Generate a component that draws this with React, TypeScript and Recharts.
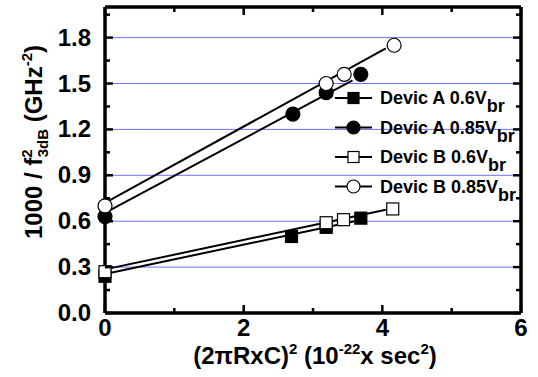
import React from 'react';
import {CartesianGrid, Legend, Line, LineChart, XAxis, YAxis} from 'recharts';

const xTicks = [0, 1, 2, 3, 4, 5, 6];
const xLabels = [0, 2, 4, 6];
const yTicks = [0, 0.15, 0.3, 0.45, 0.6, 0.75, 0.9, 1.05, 1.2, 1.35, 1.5, 1.65, 1.8, 1.95];
const yLabels = [0, 0.3, 0.6, 0.9, 1.2, 1.5, 1.8];
const gridValues = [0.3, 0.6, 0.9, 1.2, 1.5, 1.8];

// measured points
const devA06 = [{x: 0, y: 0.24}, {x: 2.69, y: 0.50}, {x: 3.19, y: 0.56}, {x: 3.69, y: 0.62}];
const devA085 = [{x: 0, y: 0.63}, {x: 2.71, y: 1.30}, {x: 3.19, y: 1.44}, {x: 3.69, y: 1.56}];
const devB06 = [{x: 0, y: 0.27}, {x: 3.19, y: 0.59}, {x: 3.44, y: 0.61}, {x: 4.15, y: 0.68}];
const devB085 = [{x: 0, y: 0.70}, {x: 3.19, y: 1.50}, {x: 3.45, y: 1.56}, {x: 4.17, y: 1.75}];

// linear fits (end points)
const fitA06 = [{x: 0, y: 0.255}, {x: 3.6, y: 0.60}];
const fitA085 = [{x: 0, y: 0.655}, {x: 3.57, y: 1.52}];
const fitB06 = [{x: 0, y: 0.285}, {x: 4.05, y: 0.675}];
const fitB085 = [{x: 0, y: 0.72}, {x: 4.05, y: 1.73}];

const legendNames = ['Devic A 0.6V', 'Devic A 0.85V', 'Devic B 0.6V', 'Devic B 0.85V'];

const font = "'Liberation Sans', Arial, sans-serif";
const axisLine = {stroke: '#000', strokeWidth: 3.5};

const squareDot = (fill: string) => (props: any) => {
    const {cx, cy} = props;
    return <rect key={`s-${cx}-${cy}`} x={cx - 6} y={cy - 6} width={12} height={12}
                 fill={fill} stroke="#000" strokeWidth={1.2}/>;
};

const BottomTick = ({x, y, payload}: any) => {
    const major = xLabels.includes(payload.value);
    return (
        <g>
            <line x1={x} x2={x} y1={y} y2={y - (major ? 8 : 5)} stroke="#000" strokeWidth={2.5}/>
            {major && <text x={x} y={y + 23} textAnchor="middle" fontSize={24} fontWeight="bold"
                            fontFamily={font} fill="#000">{payload.value}</text>}
        </g>
    );
};

const TopTick = ({x, y, payload}: any) => {
    const major = xLabels.includes(payload.value);
    return <line x1={x} x2={x} y1={y} y2={y + (major ? 8 : 5)} stroke="#000" strokeWidth={2.5}/>;
};

const LeftTick = ({x, y, payload}: any) => {
    const major = yLabels.includes(payload.value);
    return (
        <g>
            <line x1={x} x2={x + (major ? 8 : 5)} y1={y} y2={y} stroke="#000" strokeWidth={2.5}/>
            {major && <text x={x - 14} y={y + 8} textAnchor="end" fontSize={24} fontWeight="bold"
                            fontFamily={font} fill="#000">{payload.value.toFixed(1)}</text>}
        </g>
    );
};

const RightTick = ({x, y, payload}: any) => {
    const major = yLabels.includes(payload.value);
    return <line x1={x} x2={x - (major ? 8 : 5)} y1={y} y2={y} stroke="#000" strokeWidth={2.5}/>;
};

const YTitle = () => (
    <text transform="translate(42,142) rotate(-90)" textAnchor="middle" fontSize={24} fontWeight="bold"
          fontFamily={font} fill="#000">
        <tspan>1000 / f</tspan>
        <tspan fontSize={15} dy={-10}>2</tspan>
        <tspan fontSize={15} dx={-8} dy={16}>3dB</tspan>
        <tspan dy={-6}> (GHz</tspan>
        <tspan fontSize={15} dy={-10}>-2</tspan>
        <tspan dy={10}>)</tspan>
    </text>
);

const XTitle = () => (
    <text x={315} y={364} textAnchor="middle" fontSize={24} fontWeight="bold" fontFamily={font} fill="#000">
        <tspan>(2πRxC)</tspan>
        <tspan fontSize={15} dy={-10}>2</tspan>
        <tspan dy={10}> (10</tspan>
        <tspan fontSize={15} dy={-10}>-22</tspan>
        <tspan dy={10}>x sec</tspan>
        <tspan fontSize={15} dy={-10}>2</tspan>
        <tspan dy={10}>)</tspan>
    </text>
);

const LegendBox = () => (
    <svg width={206} height={120} style={{overflow: 'visible'}}>
        {legendNames.map((name, i) => {
            const cy = 14 + 29.5 * i;
            const filled = i < 2;
            const square = i % 2 === 0;
            return (
                <g key={name}>
                    <line x1={3} x2={40} y1={cy} y2={cy} stroke="#000" strokeWidth={2}/>
                    {square
                        ? <rect x={16} y={cy - 5.5} width={11} height={11} fill={filled ? '#000' : '#fff'}
                                stroke="#000" strokeWidth={1.2}/>
                        : <circle cx={21.5} cy={cy} r={6.5} fill={filled ? '#000' : '#fff'} stroke="#000"
                                  strokeWidth={1.2}/>}
                    <text x={48} y={cy + 6} fontSize={18} fontWeight="bold" fontFamily={font} fill="#000">
                        {name}
                        <tspan dy={8} fontSize={18}>br</tspan>
                    </text>
                </g>
            );
        })}
    </svg>
);

export default function App() {
    return (
        <div style={{position: 'absolute', left: 0, top: 0}}>
            <LineChart width={538} height={377} margin={{top: 6, right: 16, bottom: 0, left: 0}}>
                <CartesianGrid horizontal vertical={false} stroke="#6f6fff" strokeWidth={1}
                               horizontalValues={gridValues}/>
                <XAxis xAxisId="top" orientation="top" type="number" dataKey="x" domain={[0, 6]} ticks={xTicks}
                       interval={0} height={1} tickSize={0} tickMargin={0} tickLine={false} tick={<TopTick/>}
                       axisLine={axisLine}/>
                <XAxis type="number" dataKey="x" domain={[0, 6]} ticks={xTicks} interval={0} height={64}
                       tickSize={0} tickMargin={0} tickLine={false} tick={<BottomTick/>}
                       axisLine={axisLine} label={<XTitle/>}/>
                <YAxis type="number" domain={[0, 2]} ticks={yTicks} interval={0} width={105} tickSize={0}
                       tickMargin={0} tickLine={false} tick={<LeftTick/>}
                       axisLine={axisLine} label={<YTitle/>}/>
                <YAxis yAxisId="right" orientation="right" type="number" domain={[0, 2]} ticks={yTicks}
                       interval={0} width={1} tickSize={0} tickMargin={0} tickLine={false} tick={<RightTick/>}
                       axisLine={axisLine}/>

                <Line data={fitA06} dataKey="y" stroke="#000" strokeWidth={2} dot={false} isAnimationActive={false}/>
                <Line data={fitB06} dataKey="y" stroke="#000" strokeWidth={2} dot={false} isAnimationActive={false}/>
                <Line data={fitA085} dataKey="y" stroke="#000" strokeWidth={2} dot={false} isAnimationActive={false}/>
                {/* mirrored top/right axes share the same domains; this series keeps them drawn */}
                <Line data={fitB085} xAxisId="top" yAxisId="right" dataKey="y" stroke="#000" strokeWidth={2}
                      dot={false} isAnimationActive={false}/>

                <Line data={devA06} dataKey="y" stroke="none" dot={squareDot('#000')} isAnimationActive={false}/>
                <Line data={devA085} dataKey="y" stroke="none" dot={{r: 7, fill: '#000', stroke: '#000', strokeWidth: 1.2}}
                      isAnimationActive={false}/>
                <Line data={devB06} dataKey="y" stroke="none" dot={squareDot('#fff')} isAnimationActive={false}/>
                <Line data={devB085} dataKey="y" stroke="none" dot={{r: 7, fill: '#fff', stroke: '#000', strokeWidth: 1.2}}
                      isAnimationActive={false}/>

                <Legend layout="horizontal" verticalAlign="middle" align="center" content={<LegendBox/>}
                        wrapperStyle={{left: 332, top: 84, width: 206, height: 120}}/>
            </LineChart>
        </div>
    );
}
